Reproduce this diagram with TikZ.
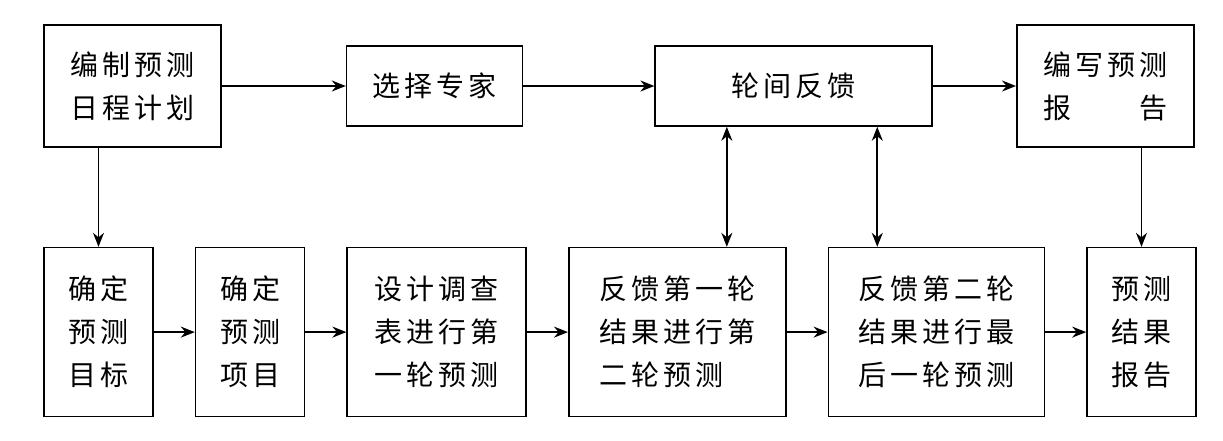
\documentclass[tikz,border=0pt]{standalone}
\usepackage{fontspec}
\newfontfamily\cjk[LetterSpace=14]{Noto Sans CJK SC}
\usetikzlibrary{arrows.meta,positioning,calc}

\begin{document}
\begin{tikzpicture}[font=\cjk\fontsize{14pt}{21.5pt}\selectfont,
  >={Stealth[length=7pt,width=5.5pt]}, line width=0.8pt, node distance=20.5pt,
  box/.style={draw, align=center, inner sep=0pt, minimum height=84.5pt},
  head/.style={box, minimum height=40pt},
  tall/.style={box, minimum height=61pt}]

\useasboundingbox (0,0) rectangle (611.5pt,-220pt);

\node[tall, minimum width=88.5pt] (plan) at (66.25pt,-43pt) {编制预测\\日程计划};
\node[head, minimum width=88pt]    (expert)   [right=62pt of plan]     {选择专家};
\node[head, minimum width=138.5pt] (feedback) [right=65.5pt of expert] {轮间反馈};
\node[tall, minimum width=88.5pt]  (report)   [right=41.5pt of feedback]
  {编写预测\\\makebox[62pt]{报\hfill 告}};

\node[box, minimum width=54.5pt] (goal)
  [below=49.5pt of plan.south west, anchor=north west] {确定\\预测\\目标};
\node[box, minimum width=54.5pt]  (item)   [right=of goal]   {确定\\预测\\项目};
\node[box, minimum width=89.5pt]  (survey) [right=of item]   {设计调查\\表进行第\\一轮预测};
\node[box, minimum width=108.5pt, align=left] (round2) [right=of survey]
  {反馈第一轮\\结果进行第\\二轮预测};
\node[box, minimum width=108pt, align=left]   (round3) [right=of round2]
  {反馈第二轮\\结果进行最\\后一轮预测};
\node[box, minimum width=54.5pt]  (result) [right=of round3] {预测\\结果\\报告};

\draw[->] (plan)     -- (expert);
\draw[->] (expert)   -- (feedback);
\draw[->] (feedback) -- (report);
\draw[->] (plan.south -| goal.north)     -- (goal.north);
\draw[->] (report.south -| result.north) -- (result.north);

\draw[->] (goal)   -- (item);
\draw[->] (item)   -- (survey);
\draw[->] (survey) -- (round2);
\draw[->] (round2) -- (round3);
\draw[->] (round3) -- (result);

% feedback between rounds
\coordinate (fbA) at ($(feedback.south west)!0.26!(feedback.south east)$);
\coordinate (fbB) at ($(feedback.south west)!0.80!(feedback.south east)$);
\draw[<->] (fbA) -- (fbA |- round2.north);
\draw[<->] (fbB) -- (fbB |- round3.north);

\end{tikzpicture}
\end{document}
